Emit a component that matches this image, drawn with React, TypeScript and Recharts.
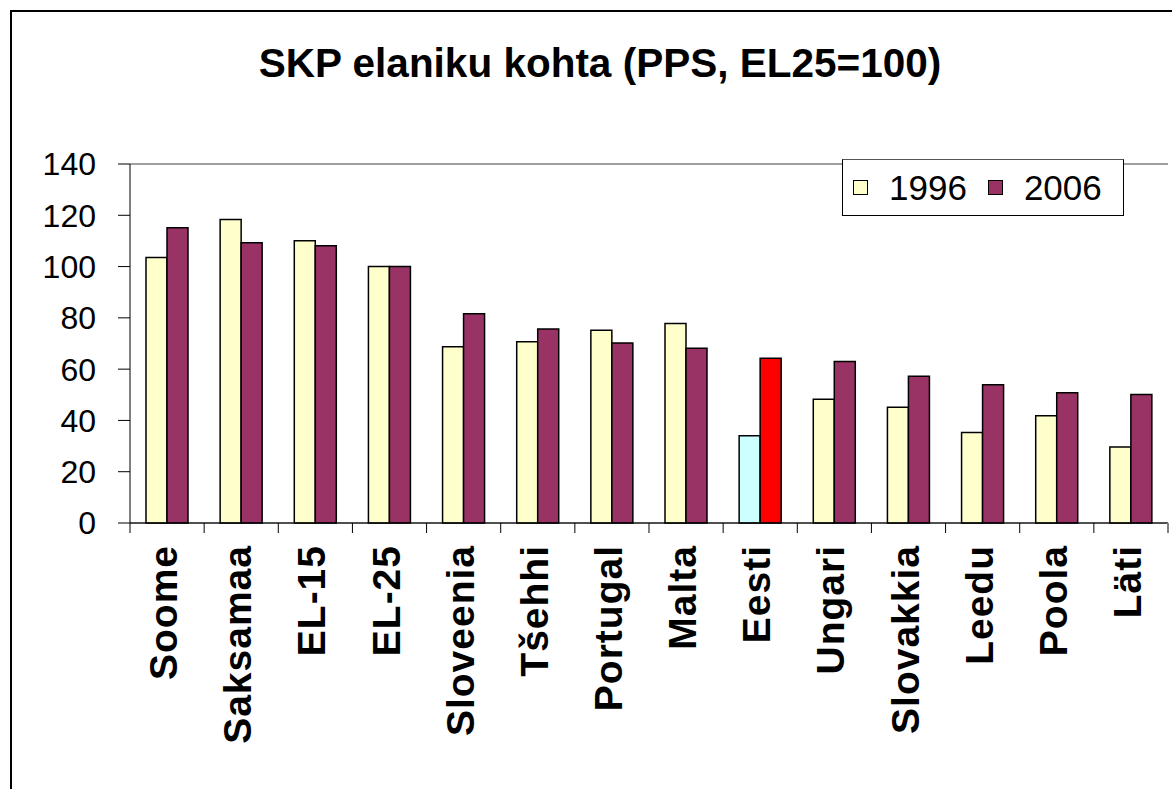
import React from 'react';
import { BarChart, Bar, XAxis, YAxis, CartesianGrid, Legend, Cell } from 'recharts';

const categories = ['Soome', 'Saksamaa', 'EL-15', 'EL-25', 'Sloveenia', 'Tšehhi', 'Portugal', 'Malta', 'Eesti', 'Ungari', 'Slovakkia', 'Leedu', 'Poola', 'Läti'];
const values1996 = [103.5, 118.4, 110.1, 100, 68.7, 70.7, 75.2, 77.8, 34.0, 48.3, 45.1, 35.3, 41.8, 29.6];
const values2006 = [115.1, 109.3, 108.1, 100, 81.6, 75.7, 70.2, 68.1, 64.2, 63.0, 57.2, 53.9, 50.8, 50.1];
const yTicks = [0, 20, 40, 60, 80, 100, 120, 140];
const seriesNames = ['1996', '2006'];
const seriesColors = ['#FFFFCC', '#993366'];
const highlightCategory = 'Eesti';
const highlightColors = ['#CCFFFF', '#FF0000'];
const title = 'SKP elaniku kohta (PPS, EL25=100)';

const W = 1172;
const H = 789;
const MARGIN = { top: 164, right: 4, left: 10, bottom: 26 };
const Y_AXIS_W = 120;
const X_AXIS_H = 240;
const PLOT_W = W - MARGIN.left - Y_AXIS_W - MARGIN.right;
const BAND = PLOT_W / categories.length;
const FONT = '"Liberation Sans", Arial, Helvetica, sans-serif';

const data = categories.map((c, i) => ({ name: c, v1996: values1996[i], v2006: values2006[i] }));

const CategoryTick = (props: any) => {
  const { x, y, payload, index } = props;
  const half = BAND / 2;
  return (
    <g>
      <line x1={x - half} y1={y} x2={x - half} y2={y + 10} stroke="#000" strokeWidth={1} />
      {index === categories.length - 1 && (
        <line x1={x + half} y1={y} x2={x + half} y2={y + 10} stroke="#808080" strokeWidth={2} />
      )}
      <text
        transform={`translate(${x + 10},${y + 22}) rotate(-90)`}
        textAnchor="end"
        fontSize={39}
        fontWeight="bold"
        fontFamily={FONT}
        letterSpacing={1}
        fill="#000"
      >
        {payload.value}
      </text>
    </g>
  );
};

const LegendBox = () => (
  <div
    style={{
      boxSizing: 'border-box',
      width: 282,
      height: 57,
      border: '1px solid #000',
      borderTopColor: '#555',
      background: '#fff',
      display: 'flex',
      alignItems: 'center',
      paddingLeft: 10,
      fontFamily: FONT,
      fontSize: 35,
      color: '#000',
    }}
  >
    {seriesNames.map((n, i) => (
      <React.Fragment key={n}>
        <span
          style={{
            display: 'inline-block',
            width: 15,
            height: 15,
            boxSizing: 'border-box',
            border: '1.5px solid #000',
            background: seriesColors[i],
            marginLeft: i ? 21 : 0,
            marginRight: 21,
          }}
        />
        <span style={{ lineHeight: 1 }}>{n}</span>
      </React.Fragment>
    ))}
  </div>
);

export default function App() {
  return (
    <div style={{ position: 'absolute', left: 0, top: 0, width: W, height: H, overflow: 'hidden', background: '#fff' }}>
      <div
        style={{
          position: 'absolute',
          left: 10,
          top: 10,
          width: 1300,
          height: 1000,
          border: '2px solid #000',
          boxSizing: 'border-box',
        }}
      />
      <div
        style={{
          position: 'absolute',
          left: 0,
          top: 43,
          width: 1200,
          textAlign: 'center',
          fontFamily: FONT,
          fontWeight: 'bold',
          fontSize: 40.5,
          lineHeight: '40px',
          color: '#000',
        }}
      >
        {title}
      </div>
      <div style={{ position: 'absolute', left: 0, top: 0 }}>
        <BarChart width={W} height={H} data={data} margin={MARGIN} barCategoryGap={16} barGap={0}>
          <CartesianGrid vertical={false} stroke="#404040" strokeWidth={1} />
          <XAxis
            dataKey="name"
            height={X_AXIS_H}
            interval={0}
            tickLine={false}
            tickSize={0}
            tickMargin={0}
            axisLine={{ stroke: '#000', strokeWidth: 1 }}
            tick={<CategoryTick />}
          />
          <YAxis
            yAxisId="left"
            width={Y_AXIS_W}
            domain={[0, 140]}
            ticks={yTicks}
            interval={0}
            tickSize={12}
            tickMargin={22}
            axisLine={{ stroke: '#000', strokeWidth: 1 }}
            tickLine={{ stroke: '#000', strokeWidth: 1 }}
            tick={{ fontSize: 32, fontFamily: FONT, fill: '#000' }}
          />
          <YAxis
            yAxisId="right"
            orientation="right"
            width={0}
            domain={[0, 140]}
            tick={false}
            tickLine={false}
            axisLine={{ stroke: '#808080', strokeWidth: 2 }}
          />
          <Legend
            layout="horizontal"
            verticalAlign="middle"
            align="center"
            content={<LegendBox />}
            wrapperStyle={{ left: 842, top: 159, width: 282, height: 57 }}
          />
          <Bar yAxisId="left" dataKey="v1996" name={seriesNames[0]} fill={seriesColors[0]} stroke="#000" strokeWidth={1.5} isAnimationActive={false}>
            {data.map((d) => (
              <Cell key={d.name} fill={d.name === highlightCategory ? highlightColors[0] : seriesColors[0]} />
            ))}
          </Bar>
          <Bar yAxisId="left" dataKey="v2006" name={seriesNames[1]} fill={seriesColors[1]} stroke="#000" strokeWidth={1.5} isAnimationActive={false}>
            {data.map((d) => (
              <Cell key={d.name} fill={d.name === highlightCategory ? highlightColors[1] : seriesColors[1]} />
            ))}
          </Bar>
        </BarChart>
      </div>
    </div>
  );
}
